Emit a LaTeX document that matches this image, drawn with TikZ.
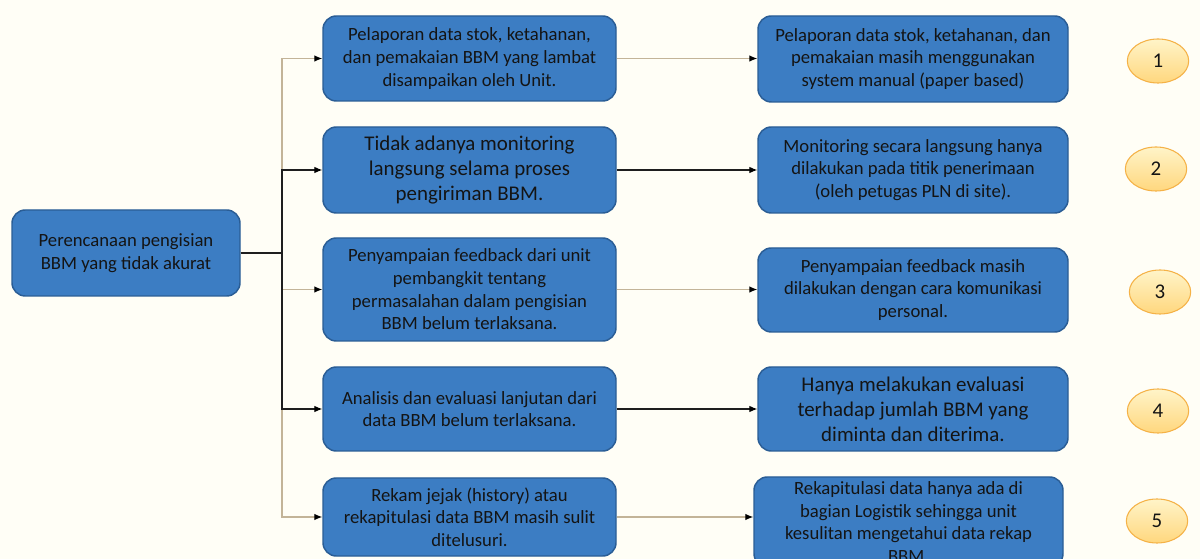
\documentclass[tikz,border=0pt]{standalone}
\usepackage{fontspec}
\setmainfont{Carlito}
\usetikzlibrary{arrows.meta,shapes.geometric}

\definecolor{paper}{HTML}{FFFEF6}
\definecolor{boxfill}{HTML}{3C7DC3}
\definecolor{boxedge}{HTML}{2A5D95}
\definecolor{ink}{HTML}{141414}
\definecolor{tanline}{HTML}{C3B498}
\definecolor{darkline}{HTML}{1E1E1E}
\definecolor{ovaltop}{HTML}{FFF4C8}
\definecolor{ovalbot}{HTML}{FFD77E}
\definecolor{ovaledge}{HTML}{F5B247}

\newcommand{\smalltxt}{\fontsize{14}{17}\selectfont}
\newcommand{\bigtxt}{\fontsize{15.7}{18.8}\selectfont}

% box given by its pixel corners (x1,y1) and (x2,y2)
\newcommand{\pxbox}[7]{%
  \node[box, font=#7, minimum width={(#4-#2)*0.75pt}, minimum height={(#5-#3)*0.75pt}]
    (#1) at ({(#2+#4)/2},{(#3+#5)/2}) {#6};}

\tikzset{
  box/.style={draw=boxedge, fill=boxfill, line width=1.1pt, rounded corners=10pt,
    align=center, inner sep=0pt, text=ink},
  oval/.style={ellipse, draw=ovaledge, line width=0.8pt, top color=ovaltop,
    bottom color=ovalbot, minimum width=46pt, minimum height=33pt, inner sep=0pt,
    text=ink, font=\bigtxt},
  tanarrow/.style={draw=tanline, line width=0.9pt, -{Latex[length=6pt,width=5pt,color=black]}},
  darkarrow/.style={draw=darkline, line width=0.8pt, -{Latex[length=6pt,width=5pt,color=black]}},
}

\begin{document}
\begin{tikzpicture}[x=0.75pt, y=-0.75pt]
  \useasboundingbox (0,0) rectangle (1200,559);
  \fill[paper] (0,0) rectangle (1200,559);
  \clip (0,0) rectangle (1200,559);

  % root problem
  \pxbox{L}{12}{210}{240}{296}{Perencanaan pengisian\\BBM yang tidak akurat}{\smalltxt}

  % causes
  \pxbox{M1}{323}{16}{616}{101}{Pelaporan data stok, ketahanan,\\dan pemakaian BBM yang lambat\\disampaikan oleh Unit.}{\smalltxt}
  \pxbox{M2}{323}{127}{616}{213}{Tidak adanya monitoring\\langsung selama proses\\pengiriman BBM.}{\bigtxt}
  \pxbox{M3}{323}{238}{616}{341}{Penyampaian feedback dari unit\\pembangkit tentang\\permasalahan dalam pengisian\\BBM belum terlaksana.}{\smalltxt}
  \pxbox{M4}{323}{367}{616}{451}{Analisis dan evaluasi lanjutan dari\\data BBM belum terlaksana.}{\smalltxt}
  \pxbox{M5}{323}{478}{616}{556}{Rekam jejak (history) atau\\rekapitulasi data BBM masih sulit\\ditelusuri.}{\smalltxt}

  % current conditions
  \pxbox{R1}{758}{16}{1068}{102}{Pelaporan data stok, ketahanan, dan\\pemakaian masih menggunakan\\system manual (paper based)}{\smalltxt}
  \pxbox{R2}{758}{127}{1068}{213}{Monitoring secara langsung hanya\\dilakukan pada titik penerimaan\\(oleh petugas PLN di site).}{\smalltxt}
  \pxbox{R3}{758}{248}{1068}{332}{Penyampaian feedback masih\\dilakukan dengan cara komunikasi\\personal.}{\smalltxt}
  \pxbox{R4}{758}{367}{1068}{451}{Hanya melakukan evaluasi\\terhadap jumlah BBM yang\\diminta dan diterima.}{\bigtxt}
  \pxbox{R5}{754}{477}{1063}{567}{Rekapitulasi data hanya ada di\\bagian Logistik sehingga unit\\kesulitan mengetahui data rekap\\BBM.}{\smalltxt}

  % numbering
  \node[oval] (N1) at (1158,61) {1};
  \node[oval] (N2) at (1156,169) {2};
  \node[oval] (N3) at (1160,292) {3};
  \node[oval] (N4) at (1158,411) {4};
  \node[oval] (N5) at (1157,521) {5};

  % elbow junction of the tree
  \coordinate (J) at (282,253);

  % light connectors first, dark ones on top
  \draw[tanarrow] (L.east) -- (J) |- (M1.west);
  \draw[tanarrow] (L.east) -- (J) |- (M3.west);
  \draw[tanarrow] (L.east) -- (J) |- (M5.west);
  \draw[darkarrow] (L.east) -- (J) |- (M2.west);
  \draw[darkarrow] (L.east) -- (J) |- (M4.west);

  \draw[tanarrow] (M1.east) -- (M1.east -| R1.west);
  \draw[darkarrow] (M2.east) -- (M2.east -| R2.west);
  \draw[tanarrow] (M3.east) -- (M3.east -| R3.west);
  \draw[darkarrow] (M4.east) -- (M4.east -| R4.west);
  \draw[tanarrow] (M5.east) -- (M5.east -| R5.west);
\end{tikzpicture}
\end{document}
